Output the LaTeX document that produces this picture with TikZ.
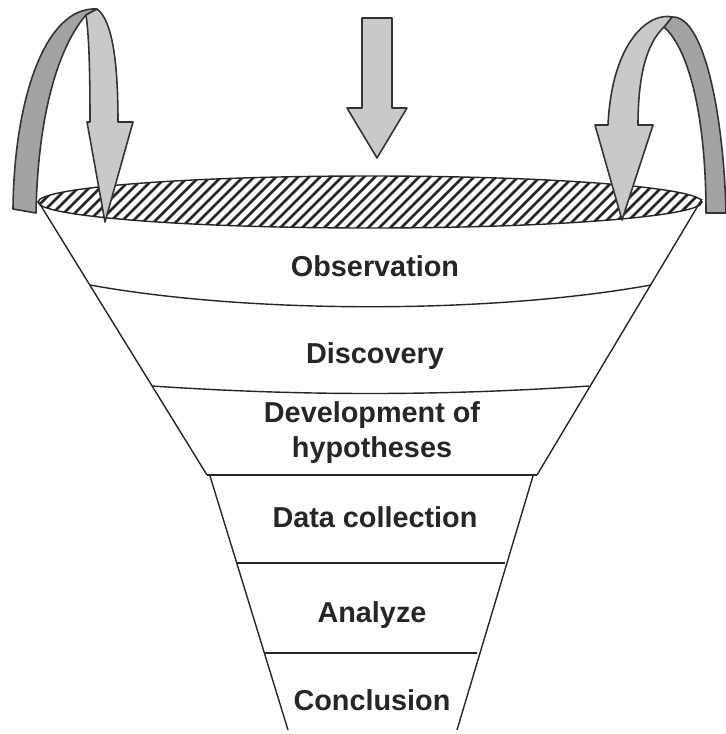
\documentclass[tikz,border=0pt]{standalone}
\usepackage{fontspec}
\setsansfont{Liberation Sans}
\usepackage{tikz}

\begin{document}
\begin{tikzpicture}[x=0.02cm, y=-0.02cm,
  edge/.style={draw=black!85, line width=0.8pt},
  thickedge/.style={draw=black!85, line width=1.6pt},
  lightribbon/.style={fill=gray!42, draw=black!80, line width=0.9pt, line join=round},
  darkribbon/.style={fill=gray!72, draw=black!80, line width=0.9pt, line join=round},
  lbl/.style={font=\sffamily\bfseries\fontsize{16.4}{19.4}\selectfont, text=black!85, anchor=base, align=center, inner sep=0pt}]
  \useasboundingbox (0,0) rectangle (726,734);
  % funnel corners
  \coordinate (tl) at (38,201);
  \coordinate (tr) at (702,199);
  \coordinate (ml) at (207,475);
  \coordinate (mr) at (537,475);
  \coordinate (ul) at (210,476);
  \coordinate (ur) at (533,476);
  \coordinate (bl) at (288,730);
  \coordinate (br) at (457,730);
  % hatched rim
  \begin{scope}
    \clip (370,202) ellipse [x radius=332, y radius=26];
    \foreach \x in {-40,-29,...,760}
      \draw[black!85, line width=1.6pt] (\x,240) -- (\x+70,170);
  \end{scope}
  \draw[edge] (370,202) ellipse [x radius=332, y radius=26];
  % sides of the funnel
  \draw[edge] (tl) -- (ml);
  \draw[edge] (tr) -- (mr);
  \draw[edge] (ml) -- (mr);
  \draw[edge] (ul) -- (bl);
  \draw[edge] (ur) -- (br);
  % dividers
  \draw[edge] (90,285) .. controls (250,314) and (490,314) .. (651,285);
  \draw[edge] (152,386) .. controls (300,396) and (440,396) .. (589,386);
  \draw[thickedge] (237,563) -- (505,563);
  \draw[thickedge] (264,653) -- (477,653);
  % labels
  \node[lbl] (obs) at (375,276) {Observation};
  \node[lbl] (disc) at (375,363) {Discovery};
  \node[lbl] (hyp) at (372,457) {Development of\\hypotheses};
  \node[lbl] (data) at (375,527) {Data collection};
  \node[lbl] (anal) at (372,622) {Analyze};
  \node[lbl] (concl) at (372,710) {Conclusion};
  % middle arrow
  \draw[lightribbon] (362,18) -- (392,18) -- (392,108) -- (407,108) -- (377,158)
    -- (347,108) -- (362,108) -- cycle;
  % left arrow
  \draw[darkribbon] (13,209) .. controls (14,100) and (45,6) .. (97,9) -- (86,15)
    .. controls (60,45) and (38,110) .. (36,213) -- cycle;
  \draw[lightribbon] (86,15) -- (97,9) .. controls (112,20) and (118,60) .. (118,122)
    -- (133,122) -- (105,222) -- (87,122) -- (90,122)
    .. controls (90,70) and (89,35) .. cycle;
  % right arrow
  \draw[darkribbon] (726,213) .. controls (724,120) and (705,15) .. (672,17) -- (664,27)
    .. controls (690,50) and (706,120) .. (706,213) -- cycle;
  \draw[lightribbon] (672,17) .. controls (650,12) and (612,40) .. (608,125)
    -- (595,125) -- (622,220) -- (653,125) -- (638,125)
    .. controls (638,80) and (645,45) .. (664,27) -- cycle;
\end{tikzpicture}
\end{document}
